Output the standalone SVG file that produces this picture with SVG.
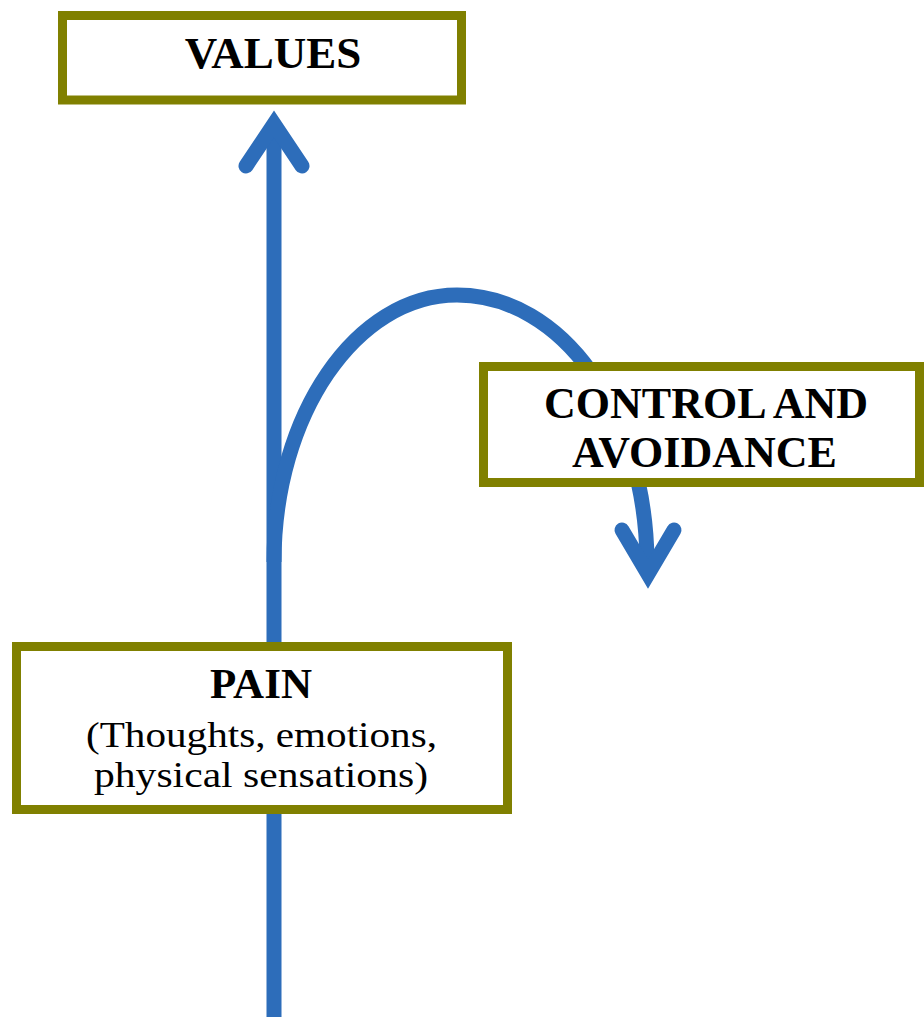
<svg xmlns="http://www.w3.org/2000/svg" width="924" height="1017" viewBox="0 0 924 1017">
<style>
.box{fill:#ffffff;stroke:#808000;stroke-width:9}
.conn{fill:none;stroke:#2D6DBA;stroke-width:15}
.head{fill:none;stroke:#2D6DBA;stroke-width:15;stroke-linecap:round;stroke-linejoin:miter;stroke-miterlimit:10}
.t{font-family:"Liberation Serif","Times New Roman",serif;fill:#000;text-anchor:middle}
.b{font-weight:bold}
</style>
<rect width="924" height="1017" fill="#ffffff"/>
<g id="connectors">
<path class="conn" d="M274 1017 L274 128"/>
<polyline class="head" points="246,166 274,124 302,166"/>
<path class="conn" d="M274 562 C274 415 356 295 457 295 C562 295 645 411 647 560"/>
<polyline class="head" points="622,530 648,574 674,530"/>
</g>
<g id="values">
<rect class="box" x="62.5" y="15.5" width="399" height="84.5"/>
<text class="t b" x="273" y="68" font-size="45">VALUES</text>
</g>
<g id="control">
<rect class="box" x="483.5" y="366.5" width="436" height="116"/>
<text class="t b" x="706" y="418" font-size="44">CONTROL AND</text>
<text class="t b" x="704.5" y="467" font-size="44">AVOIDANCE</text>
</g>
<g id="pain">
<rect class="box" x="16.5" y="646.5" width="491" height="163"/>
<text class="t b" x="261" y="698" font-size="43">PAIN</text>
<text class="t" x="261.5" y="747" font-size="35" textLength="351" lengthAdjust="spacingAndGlyphs">(Thoughts, emotions,</text>
<text class="t" x="261" y="787" font-size="35" textLength="334" lengthAdjust="spacingAndGlyphs">physical sensations)</text>
</g>
</svg>
